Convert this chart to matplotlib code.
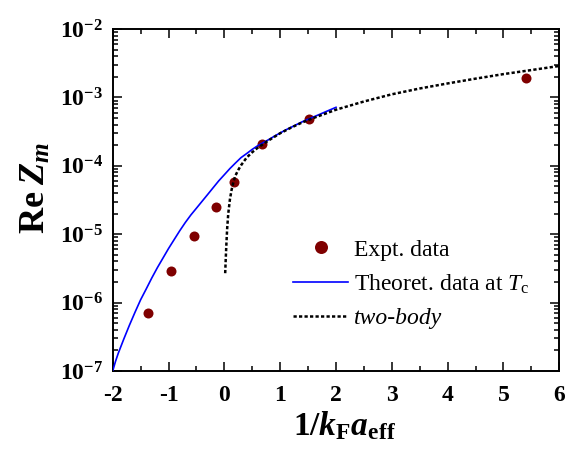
import matplotlib
matplotlib.use("Agg")
import matplotlib.pyplot as plt
from matplotlib.ticker import MultipleLocator, LogLocator, FixedLocator, FixedFormatter, NullFormatter

plt.rcParams['font.family'] = ['Liberation Serif', 'DejaVu Serif']
plt.rcParams['mathtext.fontset'] = 'custom'
plt.rcParams['mathtext.rm'] = 'Liberation Serif'
plt.rcParams['mathtext.it'] = 'Liberation Serif:italic'
plt.rcParams['mathtext.bf'] = 'Liberation Serif:bold'
plt.rcParams['mathtext.bfit'] = 'Liberation Serif:italic:bold'
plt.rcParams['axes.unicode_minus'] = False

# Experimental data
expt_x = [-1.37, -0.955, -0.545, -0.15, 0.165, 0.675, 1.52, 5.40]
expt_y = [7.0e-7, 2.9e-6, 9.4e-6, 2.5e-5, 5.8e-5, 2.1e-4, 4.8e-4, 1.9e-3]

# Theoretical data at Tc
theo_x = [-2.0, -1.95, -1.9, -1.8, -1.7, -1.6, -1.5, -1.4, -1.3, -1.2, -1.1, -1.0,
          -0.9, -0.8, -0.7, -0.6, -0.5, -0.4, -0.3, -0.2, -0.1, 0.0, 0.1, 0.2,
          0.3, 0.4, 0.5, 0.6, 0.7, 0.8, 0.9, 1.0, 1.1, 1.2, 1.3, 1.4, 1.5, 1.6,
          1.7, 1.8, 1.9, 2.0]
theo_y = [1.0e-7, 1.38e-7, 1.82e-7, 2.95e-7, 4.68e-7, 7.24e-7, 1.10e-6, 1.58e-6,
          2.29e-6, 3.24e-6, 4.47e-6, 6.17e-6, 8.32e-6, 1.12e-5, 1.48e-5, 1.91e-5,
          2.40e-5, 3.02e-5, 3.80e-5, 4.79e-5, 6.03e-5, 7.41e-5, 9.12e-5, 1.10e-4,
          1.32e-4, 1.51e-4, 1.74e-4, 1.97e-4, 2.19e-4, 2.43e-4, 2.72e-4, 3.02e-4,
          3.35e-4, 3.67e-4, 4.03e-4, 4.42e-4, 4.79e-4, 5.19e-4, 5.62e-4, 6.10e-4,
          6.61e-4, 7.16e-4]

# Two-body
two_x = [0.015, 0.025, 0.035, 0.05, 0.07, 0.1, 0.13, 0.165, 0.2, 0.25, 0.3, 0.4,
         0.5, 0.6, 0.7, 0.8, 1.0, 1.2, 1.4, 1.6, 1.8, 2.0, 2.5, 3.0, 3.5, 4.0,
         4.5, 5.0, 5.5, 6.0]
two_y = [2.69e-6, 4.37e-6, 6.76e-6, 1.20e-5, 2.00e-5, 3.24e-5, 4.47e-5, 5.89e-5,
         7.24e-5, 8.71e-5, 1.02e-4, 1.32e-4, 1.58e-4, 1.84e-4, 2.09e-4, 2.37e-4,
         2.99e-4, 3.63e-4, 4.32e-4, 5.01e-4, 5.75e-4, 6.61e-4, 8.71e-4, 1.11e-3,
         1.35e-3, 1.60e-3, 1.88e-3, 2.19e-3, 2.51e-3, 2.88e-3]

x_ticks = [-2, -1, 0, 1, 2, 3, 4, 5, 6]
x_tick_labels = ['-2', '-1', '0', '1', '2', '3', '4', '5', '6']
y_ticks = [1e-7, 1e-6, 1e-5, 1e-4, 1e-3, 1e-2]
y_tick_labels = [r'$\mathbf{10^{-7}}$', r'$\mathbf{10^{-6}}$', r'$\mathbf{10^{-5}}$',
                 r'$\mathbf{10^{-4}}$', r'$\mathbf{10^{-3}}$', r'$\mathbf{10^{-2}}$']

fig = plt.figure(figsize=(5.67, 4.55), dpi=100)
ax = fig.add_axes([112.7 / 567, 1 - 371 / 455, (559.3 - 112.7) / 567, (371 - 29) / 455])

ax.plot(expt_x, expt_y, 'o', color='#7f0000', ms=7.2, mew=0, zorder=2, label='Expt. data')
ax.plot(theo_x, theo_y, '-', color='#0000ff', lw=1.2, zorder=3,
        label=r'Theoret. data at $T_\mathrm{c}$')
ax.plot(two_x, two_y, color='black', lw=1.8, linestyle=(0, (1.3, 0.9)), zorder=4,
        label='two-body')

ax.set_yscale('log')
ax.set_xlim(-2, 6)
ax.set_ylim(1e-7, 1e-2)

ax.xaxis.set_major_locator(FixedLocator(x_ticks))
ax.xaxis.set_major_formatter(FixedFormatter(x_tick_labels))
ax.xaxis.set_minor_locator(MultipleLocator(0.5))
ax.yaxis.set_major_locator(FixedLocator(y_ticks))
ax.yaxis.set_major_formatter(FixedFormatter(y_tick_labels))
ax.yaxis.set_minor_locator(LogLocator(base=10, subs=range(2, 10), numticks=20))
ax.yaxis.set_minor_formatter(NullFormatter())

for sp in ax.spines.values():
    sp.set_linewidth(1.4)
ax.tick_params(which='both', direction='in', top=True, right=True, width=1.1)
ax.tick_params(which='major', length=6.5)
ax.tick_params(which='minor', length=3.6)
ax.tick_params(axis='x', which='major', labelsize=17, pad=10)
ax.tick_params(axis='y', which='major', labelsize=17, pad=7)
for lab in ax.get_xticklabels():
    lab.set_fontweight('bold')

ax.set_ylabel(r'$\mathbf{Re}\;\mathbfit{Z}_{\mathbfit{m}}$', fontsize=26)
ax.yaxis.set_label_coords(-0.135, 0.535)
ax.set_xlabel(r'$\mathbf{1/}\mathbfit{k}_{\mathbf{F}}\mathbfit{a}_{\mathbf{eff}}$', fontsize=24)
ax.xaxis.set_label_coords(0.52, -0.113)

leg = ax.legend(loc='upper left', bbox_to_anchor=(293 / 567, 1 - 239 / 455),
                bbox_transform=fig.transFigure, frameon=False, fontsize=17,
                handlelength=2.33, handletextpad=0.25, borderpad=0, borderaxespad=0,
                labelspacing=0.5, markerscale=1.3)
leg.get_texts()[2].set_fontstyle('italic')

fig.savefig('out.png', dpi=100)
